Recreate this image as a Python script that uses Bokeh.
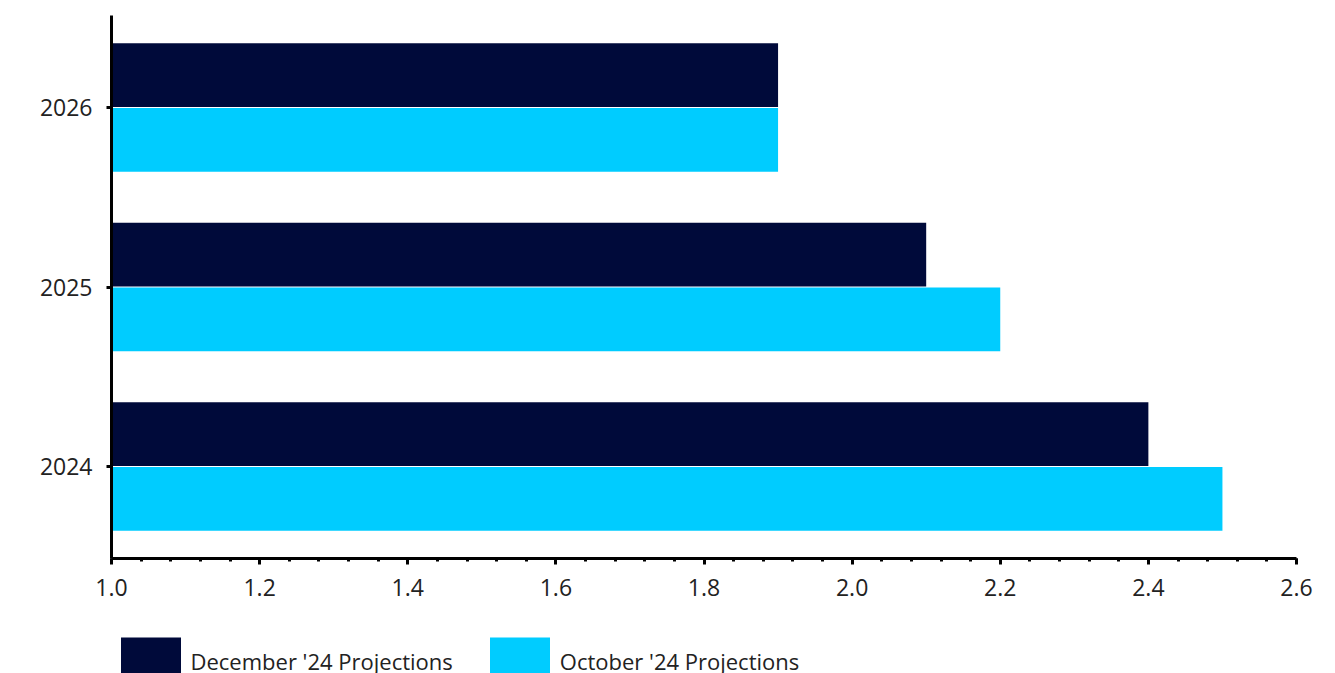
from bokeh.plotting import figure
from bokeh.layouts import column
from bokeh.models import (FactorRange, Range1d, FixedTicker, NumeralTickFormatter,
                          Legend, LegendItem, ColumnDataSource)
from bokeh.transform import dodge
from bokeh.embed import file_html
from bokeh.resources import INLINE

# Projection values by year
years = ["2024", "2025", "2026"]
december_24 = [2.4, 2.1, 1.9]
october_24 = [2.5, 2.2, 1.9]

series_labels = ["December '24 Projections", "October '24 Projections"]
x_ticks = [1.0, 1.2, 1.4, 1.6, 1.8, 2.0, 2.2, 2.4, 2.6]

DARK = "#000A3A"
CYAN = "#00CCFF"
TEXT = "#222222"
FONT = "Open Sans"

source = ColumnDataSource(dict(year=years, dec=december_24, oct=october_24))

# ---- main bar chart ----
p = figure(width=1335, height=610, output_backend="svg", toolbar_location=None,
           y_range=FactorRange(factors=years, range_padding=0.0083),
           x_range=Range1d(1.0, 2.6),
           min_border_left=111, min_border_right=39, min_border_top=15,
           min_border_bottom=52)

p.hbar(y=dodge("year", 0.18, range=p.y_range), right="dec", left=1.0,
       height=0.355, source=source, fill_color=DARK, line_color=DARK, line_width=0)
p.hbar(y=dodge("year", -0.18, range=p.y_range), right="oct", left=1.0,
       height=0.355, source=source, fill_color=CYAN, line_color=CYAN, line_width=0)

p.xgrid.visible = False
p.ygrid.visible = False
p.outline_line_color = None

xa = p.xaxis[0]
xa.ticker = FixedTicker(ticks=x_ticks,
                        minor_ticks=[round(1.0 + 0.04 * i, 2) for i in range(41)])
xa.formatter = NumeralTickFormatter(format="0.0")
xa.axis_line_width = 3
xa.axis_line_color = "black"
xa.major_tick_line_width = 3
xa.minor_tick_line_width = 3
xa.major_tick_in = 0
xa.major_tick_out = 6
xa.minor_tick_in = 0
xa.minor_tick_out = 3
xa.major_label_standoff = 14
xa.major_label_text_font = FONT
xa.major_label_text_font_size = "23px"
xa.major_label_text_color = TEXT

ya = p.yaxis[0]
ya.axis_line_width = 3
ya.axis_line_color = "black"
ya.major_tick_line_width = 3
ya.major_tick_in = 0
ya.major_tick_out = 5
ya.minor_tick_line_color = None
ya.major_label_standoff = 14
ya.major_label_text_font = FONT
ya.major_label_text_font_size = "23px"
ya.major_label_text_color = TEXT

# ---- legend strip under the chart ----
lg = figure(width=1335, height=63, output_backend="svg", toolbar_location=None,
            x_axis_location=None, y_axis_location=None,
            x_range=Range1d(0, 1), y_range=Range1d(0, 1), min_border=0)
lg.xgrid.visible = False
lg.ygrid.visible = False
lg.outline_line_color = None

# hidden renderers that only supply the legend swatches
sw_dec = lg.hbar(y=0.5, right="dec", height=1, source=source, visible=False,
                 fill_color=DARK, line_color=DARK, line_width=0)
sw_oct = lg.hbar(y=0.5, right="oct", height=1, source=source, visible=False,
                 fill_color=CYAN, line_color=CYAN, line_width=0)

legend = Legend(items=[LegendItem(label=series_labels[0], renderers=[sw_dec]),
                       LegendItem(label=series_labels[1], renderers=[sw_oct])],
                orientation="horizontal", location=(1.5, -18),
                glyph_width=75, glyph_height=60, label_standoff=3, spacing=29,
                padding=0, margin=0, border_line_color=None,
                background_fill_alpha=0,
                label_text_font=FONT, label_text_font_size="22px",
                label_text_color=TEXT)
lg.add_layout(legend)

layout = column(p, lg, spacing=0)
open("out.html", "w").write(file_html(layout, INLINE))
